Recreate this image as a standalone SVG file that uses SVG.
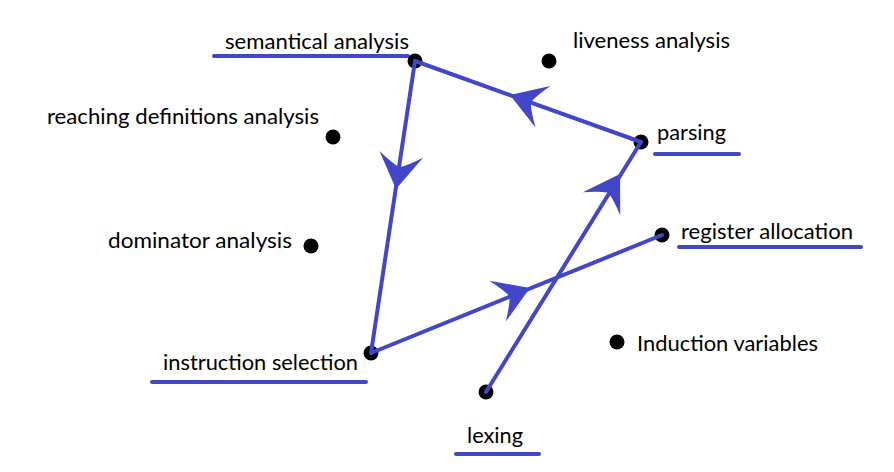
<svg xmlns="http://www.w3.org/2000/svg" width="894" height="472" viewBox="0 0 894 472">
<style>
.lbl{font-family:Lato,"Open Sans","Liberation Sans",sans-serif;font-size:22px;fill:#000}
.dot{fill:#000}
.ul{stroke:#4246c9;stroke-width:4;stroke-linecap:round;fill:none}
.edge{stroke:#4246c9;stroke-width:4;stroke-linecap:round;fill:none}
.ah{fill:#4246c9}
</style>
<defs>
<path id="arrow" d="M0,0 L-35,-22 Q-25,-8 -22,0 Q-25,8 -35,22 Z"/>
</defs>
<rect width="894" height="472" fill="#fff"/>
<g id="node-semantical">
<line class="ul" x1="214" y1="56" x2="408" y2="56"/>
<circle class="dot" cx="415" cy="61" r="7.5"/>
<text class="lbl" x="225" y="49" textLength="184" lengthAdjust="spacingAndGlyphs">semantical analysis</text>
</g>
<g id="node-liveness">
<circle class="dot" cx="549" cy="61" r="7.5"/>
<text class="lbl" x="573" y="48" textLength="157" lengthAdjust="spacingAndGlyphs">liveness analysis</text>
</g>
<g id="node-reaching">
<circle class="dot" cx="333" cy="137" r="7.5"/>
<text class="lbl" x="47" y="124" textLength="272" lengthAdjust="spacingAndGlyphs">reaching definitions analysis</text>
</g>
<g id="node-parsing">
<line class="ul" x1="655" y1="154" x2="739" y2="154"/>
<circle class="dot" cx="641" cy="142" r="7.5"/>
<text class="lbl" x="657" y="140" textLength="69" lengthAdjust="spacingAndGlyphs">parsing</text>
</g>
<g id="node-dominator">
<circle class="dot" cx="311" cy="246" r="7.5"/>
<text class="lbl" x="108" y="248" textLength="184" lengthAdjust="spacingAndGlyphs">dominator analysis</text>
</g>
<g id="node-register">
<line class="ul" x1="679" y1="247" x2="861" y2="247"/>
<circle class="dot" cx="662" cy="235" r="7.5"/>
<text class="lbl" x="681" y="239" textLength="172" lengthAdjust="spacingAndGlyphs">register allocation</text>
</g>
<g id="node-induction">
<circle class="dot" cx="617" cy="342" r="7.5"/>
<text class="lbl" x="637" y="351" textLength="181" lengthAdjust="spacingAndGlyphs">Induction variables</text>
</g>
<g id="node-instruction">
<line class="ul" x1="152" y1="382" x2="366" y2="382"/>
<circle class="dot" cx="371" cy="353" r="7.5"/>
<text class="lbl" x="163" y="370" textLength="195" lengthAdjust="spacingAndGlyphs">instruction selection</text>
</g>
<g id="node-lexing">
<line class="ul" x1="456" y1="454" x2="539" y2="454"/>
<circle class="dot" cx="486" cy="392" r="7.5"/>
<text class="lbl" x="467" y="443" textLength="56" lengthAdjust="spacingAndGlyphs">lexing</text>
</g>
<g id="connectors">
<line class="edge" x1="641" y1="142" x2="415" y2="61"/>
<line class="edge" x1="415" y1="61" x2="371" y2="353"/>
<line class="edge" x1="371" y1="353" x2="662" y2="235"/>
<line class="edge" x1="486" y1="392" x2="641" y2="142"/>
<use href="#arrow" class="ah" transform="translate(510,95) rotate(199.7)"/>
<use href="#arrow" class="ah" transform="translate(396,189) rotate(98.6)"/>
<use href="#arrow" class="ah" transform="translate(530,288) rotate(-22)"/>
<use href="#arrow" class="ah" transform="translate(620,174) rotate(-58.2)"/>
</g>
</svg>
